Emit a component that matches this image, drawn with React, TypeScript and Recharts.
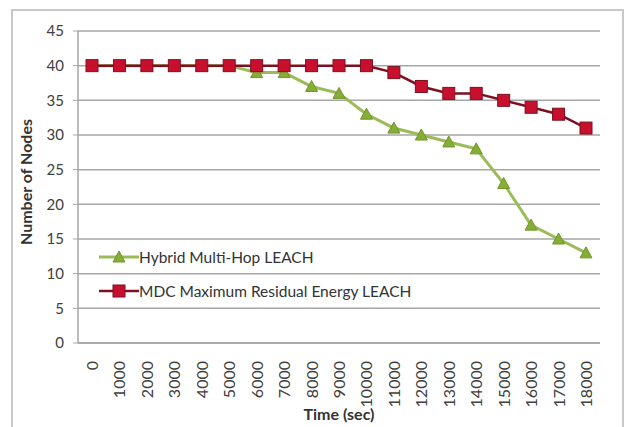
import { CartesianGrid, Line, LineChart, XAxis, YAxis } from "recharts"

const categories = ['0', '1000', '2000', '3000', '4000', '5000', '6000', '7000', '8000', '9000',
  '10000', '11000', '12000', '13000', '14000', '15000', '16000', '17000', '18000'];
const hybridValues = [40, 40, 40, 40, 40, 40, 39, 39, 37, 36, 33, 31, 30, 29, 28, 23, 17, 15, 13];
const mdcValues = [40, 40, 40, 40, 40, 40, 40, 40, 40, 40, 40, 39, 37, 36, 36, 35, 34, 33, 31];
const yTicks = [0, 5, 10, 15, 20, 25, 30, 35, 40, 45];

const hybridName = 'Hybrid Multi-Hop LEACH';
const mdcName = 'MDC Maximum Residual Energy LEACH';

const data = categories.map((time, i) => ({ time, hybrid: hybridValues[i], mdc: mdcValues[i] }));

const FONT = 'Lato, "Liberation Sans", sans-serif';
const GREEN_LINE = '#9bbb59';
const GREEN_FILL = '#86ad35';
const RED_LINE = '#7d1020';
const RED_FILL = '#c8102e';

const Square = (props: any) => {
  const { cx, cy, index } = props;
  if (cx == null || cy == null) return null;
  return <rect key={`sq-${index}`} x={cx - 6} y={cy - 6} width={12} height={12} fill={RED_FILL} stroke={RED_LINE} strokeWidth={1} />;
}

const Triangle = (props: any) => {
  const { cx, cy, index } = props;
  if (cx == null || cy == null) return null;
  return <polygon key={`tri-${index}`} points={`${cx},${cy - 6} ${cx + 6},${cy + 5} ${cx - 6},${cy + 5}`} fill={GREEN_FILL} stroke="#6f9628" strokeWidth={1} />;
}

const XTick = (props: any) => {
  const { x, y, payload } = props;
  return (
    <text x={x + 6} y={y + 10} transform={`rotate(-90, ${x + 6}, ${y + 10})`} textAnchor="end"
      fontSize={16} fill="#404040" fontFamily={FONT}>{payload.value}</text>
  );
}

// legend sits inside the plot, lower left, like the Excel original
const LegendBox = () => (
  <div style={{ position: 'absolute', left: 99, top: 240, fontFamily: FONT, fontSize: 15.5, color: '#333' }}>
    <div style={{ display: 'flex', alignItems: 'center', height: 34 }}>
      <svg width={40} height={16}>
        <line x1={0} y1={8} x2={40} y2={8} stroke={GREEN_LINE} strokeWidth={3} />
        <polygon points="20,2 26,13 14,13" fill={GREEN_FILL} stroke="#6f9628" />
      </svg>
      <span>{hybridName}</span>
    </div>
    <div style={{ display: 'flex', alignItems: 'center', height: 34 }}>
      <svg width={40} height={16}>
        <line x1={0} y1={8} x2={40} y2={8} stroke={RED_LINE} strokeWidth={2.5} />
        <rect x={14} y={2} width={12} height={12} fill={RED_FILL} stroke={RED_LINE} />
      </svg>
      <span>{mdcName}</span>
    </div>
  </div>
)

export default function App() {
  return (
    <div style={{ position: 'absolute', left: 0, top: 0, width: 627, height: 427, background: '#fff' }}>
      <div style={{ position: 'absolute', left: 11, top: 9, width: 609, height: 420, border: '2px solid #c8c8c8' }} />
      <LineChart width={627} height={427} data={data} margin={{ top: 31, right: 27, left: 12, bottom: 32 }}
        style={{ position: 'absolute', left: 0, top: 0 }}>
        <CartesianGrid vertical={false} stroke="#a6a6a6" strokeWidth={1.5} />
        <XAxis dataKey="time" height={52} padding={{ left: 14, right: 14 }} tickLine={false}
          axisLine={{ stroke: '#a6a6a6', strokeWidth: 1.5 }} tick={<XTick />} interval={0}
          label={{ content: () => <text x={339} y={420} textAnchor="middle" fontSize={16} fontWeight="bold" fill="#333" fontFamily={FONT}>Time (sec)</text> }} />
        <YAxis width={66} domain={[0, 45]} ticks={yTicks} interval={0} tickSize={5} tickMargin={9}
          tickLine={{ stroke: '#a6a6a6' }} axisLine={{ stroke: '#a6a6a6', strokeWidth: 1.5 }}
          tick={{ fontSize: 15, fill: '#404040', fontFamily: FONT }}
          label={{ content: () => <text x={32} y={182} transform="rotate(-90, 32, 182)" textAnchor="middle" fontSize={16} fontWeight="bold" fill="#333" fontFamily={FONT}>Number of Nodes</text> }} />
        <Line dataKey="hybrid" name={hybridName} stroke={GREEN_LINE} strokeWidth={3} dot={<Triangle />} activeDot={false} isAnimationActive={false} />
        <Line dataKey="mdc" name={mdcName} stroke={RED_LINE} strokeWidth={2.5} dot={<Square />} activeDot={false} isAnimationActive={false} />
      </LineChart>
      <LegendBox />
    </div>
  )
}
